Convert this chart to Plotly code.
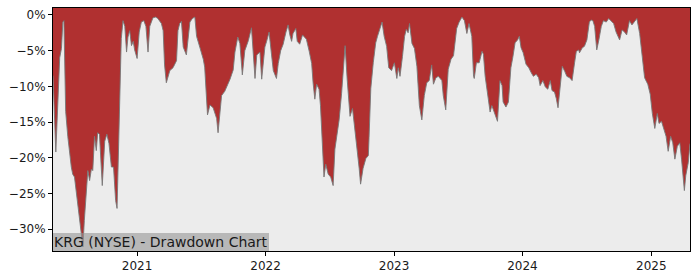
import plotly.graph_objects as go

dates = [
"2020-05-07","2020-05-15","2020-05-26","2020-05-31","2020-06-04","2020-06-07","2020-06-12","2020-06-18",
"2020-06-28","2020-07-02","2020-07-07","2020-07-16","2020-07-26","2020-07-31","2020-08-04","2020-08-09",
"2020-08-14","2020-08-19","2020-08-24","2020-08-28","2020-09-02","2020-09-07","2020-09-11","2020-09-16",
"2020-09-21","2020-09-24","2020-10-01","2020-10-07","2020-10-13","2020-10-20","2020-10-26","2020-11-01",
"2020-11-05","2020-11-08","2020-11-13","2020-11-17","2020-11-22","2020-11-27","2020-12-02","2020-12-06",
"2020-12-11","2020-12-16","2020-12-21","2020-12-25","2021-01-01","2021-01-07","2021-01-13","2021-01-20",
"2021-01-26","2021-02-01","2021-02-06","2021-02-15","2021-02-23","2021-03-01","2021-03-11","2021-03-16",
"2021-03-20","2021-03-25","2021-04-04","2021-04-13","2021-04-23","2021-04-27","2021-05-02","2021-05-07",
"2021-05-12","2021-05-21","2021-05-31","2021-06-07","2021-06-14","2021-06-19","2021-06-28","2021-07-08",
"2021-07-12","2021-07-20","2021-07-27","2021-08-05","2021-08-15","2021-08-19","2021-08-29","2021-09-07",
"2021-09-22","2021-10-01","2021-10-06","2021-10-14","2021-10-20","2021-10-27","2021-11-03","2021-11-13",
"2021-11-22","2021-11-27","2021-12-02","2021-12-07","2021-12-16","2021-12-21","2021-12-30","2022-01-04",
"2022-01-11","2022-01-18","2022-01-23","2022-02-01","2022-02-06","2022-02-13","2022-02-20","2022-02-28",
"2022-03-06","2022-03-11","2022-03-16","2022-03-20","2022-03-28","2022-04-01","2022-04-08","2022-04-16",
"2022-04-27","2022-05-05","2022-05-12","2022-05-16","2022-05-21","2022-05-26","2022-06-02","2022-06-06",
"2022-06-12","2022-06-16","2022-06-21","2022-06-28","2022-07-05","2022-07-12","2022-07-17","2022-07-23",
"2022-07-29","2022-08-05","2022-08-10","2022-08-15","2022-08-21","2022-08-29","2022-09-05","2022-09-12",
"2022-09-18","2022-09-24","2022-09-28","2022-10-05","2022-10-13","2022-10-20","2022-10-22","2022-10-27",
"2022-11-03","2022-11-10","2022-11-15","2022-11-22","2022-11-28","2022-12-04","2022-12-11","2022-12-17",
"2022-12-25","2023-01-02","2023-01-09","2023-01-13","2023-01-18","2023-01-25","2023-01-31","2023-02-05",
"2023-02-10","2023-02-14","2023-02-21","2023-02-28","2023-03-07","2023-03-14","2023-03-21","2023-03-28",
"2023-04-04","2023-04-11","2023-04-18","2023-04-23","2023-04-30","2023-05-07","2023-05-17","2023-05-21",
"2023-05-28","2023-06-04","2023-06-12","2023-06-19","2023-06-23","2023-06-28","2023-07-05","2023-07-13",
"2023-07-20","2023-07-27","2023-08-02","2023-08-07","2023-08-10","2023-08-15","2023-08-17","2023-08-23",
"2023-08-31","2023-09-08","2023-09-12","2023-09-17","2023-09-24","2023-10-01","2023-10-06","2023-10-13",
"2023-10-22","2023-10-29","2023-11-04","2023-11-07","2023-11-15","2023-11-22","2023-11-29","2023-12-05",
"2023-12-11","2023-12-18","2023-12-23","2023-12-28","2024-01-03","2024-01-11","2024-01-19","2024-01-26",
"2024-02-01","2024-02-09","2024-02-16","2024-02-20","2024-02-28","2024-03-06","2024-03-13","2024-03-20",
"2024-03-25","2024-04-01","2024-04-06","2024-04-11","2024-04-17","2024-04-23","2024-04-30","2024-05-06",
"2024-05-14","2024-05-21","2024-05-28","2024-06-02","2024-06-09","2024-06-11","2024-06-19","2024-06-25",
"2024-07-02","2024-07-09","2024-07-14","2024-07-19","2024-07-24","2024-07-30","2024-08-05","2024-08-12",
"2024-08-18","2024-08-26","2024-09-02","2024-09-09","2024-09-16","2024-09-23","2024-10-03","2024-10-10",
"2024-10-17","2024-10-23","2024-10-31","2024-11-07","2024-11-15","2024-11-21","2024-11-29","2024-12-06",
"2024-12-13","2024-12-22","2024-12-29","2025-01-04","2025-01-11","2025-01-18","2025-01-23","2025-01-30",
"2025-02-06","2025-02-12","2025-02-18","2025-02-25","2025-03-03","2025-03-09","2025-03-16","2025-03-23",
"2025-03-28","2025-04-02","2025-04-05","2025-04-09","2025-04-16","2025-04-21",
]

drawdown_pct = [
-8.5,-19.2,-6.0,-4.7,-1.0,-0.8,-13.5,-17.0,
-21.3,-22.3,-22.7,-26.4,-30.6,-32.5,-28.8,-25.5,
-21.8,-23.2,-21.6,-21.8,-17.0,-19.0,-16.5,-16.7,
-20.9,-23.9,-17.7,-16.7,-18.0,-21.3,-21.3,-26.0,
-27.1,-22.0,-10.2,-3.3,-0.8,-1.6,-5.2,-3.1,
-2.2,-4.3,-3.7,-4.9,-6.1,-2.4,-1.0,-0.8,
-1.6,-5.2,-1.6,-0.4,-0.3,-0.5,-1.2,-2.2,
-7.0,-9.5,-7.8,-7.4,-6.4,-2.2,-1.2,-0.9,
-4.5,-5.6,-1.0,-0.5,-0.3,-3.0,-4.5,-6.2,
-7.3,-14.0,-12.6,-13.0,-14.5,-16.5,-11.3,-10.7,
-9.0,-7.7,-5.2,-3.1,-4.0,-8.4,-5.0,-3.6,
-1.8,-5.6,-8.9,-5.6,-5.2,-9.0,-4.5,-3.7,
-2.4,-5.6,-7.8,-8.9,-6.8,-5.0,-4.1,-2.4,
-1.4,-2.8,-3.7,-2.6,-1.9,-3.7,-4.1,-2.8,
-3.4,-5.1,-6.8,-9.5,-11.8,-9.7,-10.4,-12.7,
-18.1,-22.7,-20.9,-22.3,-22.7,-23.9,-18.8,-16.5,
-14.7,-11.0,-6.8,-4.3,-9.1,-14.2,-13.1,-16.0,
-18.8,-21.5,-23.7,-21.5,-20.1,-19.7,-17.2,-10.3,
-6.7,-3.9,-3.0,-1.9,-1.0,-3.0,-4.4,-7.4,
-7.8,-6.7,-8.9,-7.4,-8.6,-5.8,-3.0,-2.0,
-2.5,-1.2,-4.0,-4.7,-7.2,-12.7,-14.7,-11.3,
-9.5,-9.2,-7.0,-9.7,-8.8,-8.6,-9.2,-11.3,
-13.3,-7.6,-6.2,-5.7,-3.9,-1.9,-1.0,-0.3,
-0.8,-2.6,-1.2,-2.1,-3.0,-8.6,-8.9,-6.7,
-6.7,-5.1,-5.5,-8.6,-10.9,-13.6,-12.7,-13.6,
-14.9,-9.2,-9.9,-12.2,-12.9,-12.2,-7.4,-5.8,
-3.9,-3.5,-3.0,-4.6,-5.3,-6.9,-7.4,-8.1,
-8.6,-8.3,-8.8,-9.9,-9.2,-10.1,-10.4,-9.2,
-10.6,-10.8,-11.7,-13.0,-9.9,-7.2,-7.9,-8.6,
-8.8,-9.2,-6.7,-5.1,-4.9,-5.3,-4.6,-4.4,
-3.5,-1.0,-0.7,-0.8,-1.6,-4.9,-3.5,-1.6,
-0.8,-1.0,-0.5,-0.8,-1.2,-2.4,-3.5,-2.1,
-2.4,-2.8,-0.8,-1.4,-0.8,-0.5,-2.6,-5.3,
-8.8,-9.7,-11.1,-13.8,-15.9,-13.8,-15.2,-14.9,
-16.0,-17.0,-19.1,-17.0,-17.9,-20.2,-18.4,-17.9,
-20.2,-22.5,-24.6,-22.5,-20.7,-18.0,
]

tick_vals = [0, -5, -10, -15, -20, -25, -30]
tick_text = ["0%", "\u22125%", "\u221210%", "\u221215%", "\u221220%", "\u221225%", "\u221230%"]
x_tick_vals = ["2021-01-01", "2022-01-01", "2023-01-01", "2024-01-01", "2025-01-01"]
x_tick_text = ["2021", "2022", "2023", "2024", "2025"]
label = "KRG (NYSE) - Drawdown Chart"

Y_TOP = 0.97
Y_BOTTOM = -33.06
RED = "#b03030"
BG = "#ececec"

fig = go.Figure()
fig.add_trace(go.Scatter(x=dates, y=[Y_TOP] * len(dates), mode="lines",
                         line=dict(width=0, color=RED), hoverinfo="skip", showlegend=False))
fig.add_trace(go.Scatter(x=dates, y=drawdown_pct, mode="lines", fill="tonexty",
                         fillcolor=RED, line=dict(color="rgba(120,120,120,0.9)", width=1),
                         showlegend=False))

fig.update_layout(
    width=700, height=280,
    margin=dict(l=53, r=10, t=7, b=28),
    paper_bgcolor="white", plot_bgcolor=BG,
    font=dict(family="DejaVu Sans", size=12, color="#1a1a1a"),
    showlegend=False,
)
fig.update_xaxes(
    range=[dates[0], dates[-1]], type="date",
    tickvals=x_tick_vals, ticktext=x_tick_text,
    showgrid=False, zeroline=False,
    showline=True, linecolor="black", linewidth=1, mirror=True,
    ticks="outside", ticklen=4, tickcolor="black", tickwidth=1,
)
fig.update_yaxes(
    range=[Y_BOTTOM, Y_TOP],
    tickvals=tick_vals, ticktext=tick_text,
    showgrid=False, zeroline=False,
    showline=True, linecolor="black", linewidth=1, mirror=True,
    ticks="outside", ticklen=4, tickcolor="black", tickwidth=1,
)
fig.add_annotation(
    text=label, xref="paper", yref="paper", x=0, y=0,
    xanchor="left", yanchor="bottom", showarrow=False,
    font=dict(family="DejaVu Sans", size=14, color="#1a1a1a"),
    bgcolor="rgba(150,150,150,0.6)", borderpad=1, borderwidth=0,
)
fig.write_html("out.html")
